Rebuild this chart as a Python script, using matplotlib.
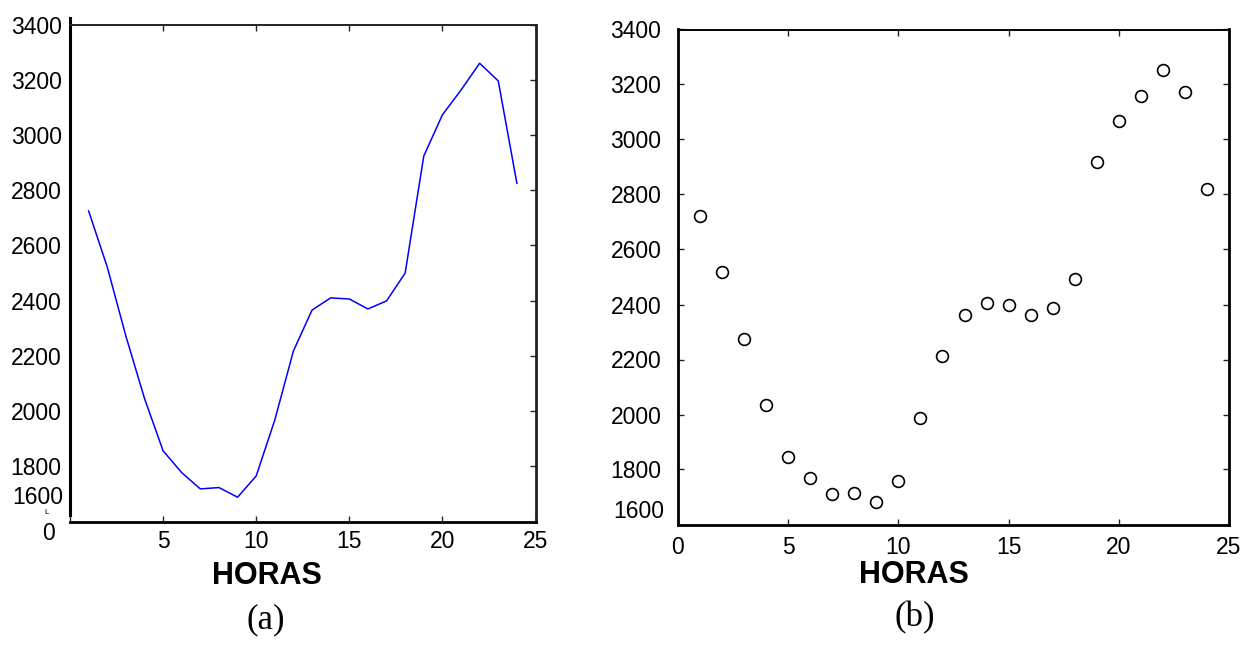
import matplotlib
matplotlib.use("Agg")
import matplotlib.pyplot as plt

# Data
hours = list(range(1, 25))
demand_a = [2725, 2522, 2272, 2046, 1856, 1777, 1718, 1723, 1688, 1765,
            1968, 2218, 2366, 2410, 2406, 2370, 2399, 2500, 2924, 3073,
            3163, 3260, 3196, 2825]
demand_b = [2720, 2520, 2275, 2035, 1847, 1768, 1710, 1716, 1680, 1758,
            1987, 2213, 2362, 2405, 2398, 2362, 2387, 2493, 2919, 3068,
            3158, 3253, 3172, 2820]
xticks = [0, 5, 10, 15, 20, 25]
yticks = [1600, 1800, 2000, 2200, 2400, 2600, 2800, 3000, 3200, 3400]
xlabel = "HORAS"
panel_labels = ["(a)", "(b)"]

W, H = 1260, 645
fig = plt.figure(figsize=(W / 100, H / 100), dpi=100)
plt.rcParams['font.family'] = ['Liberation Sans', 'DejaVu Sans']

def fx(px):
    return px / W

def fy(py):
    return 1 - py / H

tick_fs = 16.5

# ---------- Left panel (a) ----------
axa = fig.add_axes([fx(70), fy(521.5), fx(535.5) - fx(70), fy(24.6) - fy(521.5)])
axa.plot(hours, demand_a, color='#0000ff', lw=1.1)
axa.set_xlim(0, 25)
axa.set_ylim(1600, 3400)
axa.set_xticks(xticks)
axa.set_xticklabels([''] + [str(t) for t in xticks[1:]], fontsize=tick_fs)
axa.set_yticks(yticks)
axa.set_yticklabels([''] + [str(t) for t in yticks[1:]], fontsize=tick_fs)
axa.tick_params(direction='in', length=4.5, width=1, top=True, right=True,
                pad=6, colors='#222222', labelcolor='black')
for t in axa.yaxis.get_major_ticks():
    t.tick1line.set_visible(False)
axa.spines['left'].set_linewidth(2.2)
axa.spines['left'].set_bounds(1622, 3425)
axa.spines['bottom'].set_linewidth(2.0)
axa.spines['right'].set_linewidth(2.0)
axa.spines['top'].set_linewidth(1.4)
axa.spines['right'].set_color('#222222')
axa.spines['top'].set_color('#222222')
fig.text(fx(63), fy(497), "1600", ha='right', va='center', fontsize=tick_fs)
fig.text(fx(48), fy(534), "0", ha='center', va='center', fontsize=tick_fs)
fig.text(fx(47), fy(513), "L", ha='center', va='center', fontsize=6)

# ---------- Right panel (b) ----------
axb = fig.add_axes([fx(678), fy(524.5), fx(1229) - fx(678), fy(29.5) - fy(524.5)])
axb.plot(hours, demand_b, linestyle='none', marker='o', markersize=8.5,
         markerfacecolor='none', markeredgecolor='black', markeredgewidth=1.2)
axb.set_xlim(0, 25)
axb.set_ylim(1600, 3400)
axb.set_xticks(xticks)
axb.set_xticklabels([str(t) for t in xticks], fontsize=tick_fs)
axb.set_yticks(yticks)
axb.set_yticklabels([''] + [str(t) for t in yticks[1:]], fontsize=tick_fs)
axb.tick_params(direction='in', length=4.5, width=1, top=True, right=True,
                colors='#222222', labelcolor='black')
axb.tick_params(axis='y', pad=12)
axb.tick_params(axis='x', pad=8)
for s in ['left', 'bottom', 'right']:
    axb.spines[s].set_linewidth(2.0)
axb.spines['top'].set_linewidth(1.4)
fig.text(fx(664), fy(512), "1600", ha='right', va='center', fontsize=tick_fs)

# Axis labels and panel labels
fig.text(fx(267), fy(576), xlabel, ha='center', va='center',
         fontsize=22, fontweight='bold')
fig.text(fx(914), fy(575), xlabel, ha='center', va='center',
         fontsize=22, fontweight='bold')
fig.text(fx(266), fy(620), panel_labels[0], ha='center', va='center',
         fontsize=25, family=['Liberation Serif', 'DejaVu Serif'])
fig.text(fx(915), fy(618), panel_labels[1], ha='center', va='center',
         fontsize=25, family=['Liberation Serif', 'DejaVu Serif'])

fig.savefig("out.png", dpi=100)
